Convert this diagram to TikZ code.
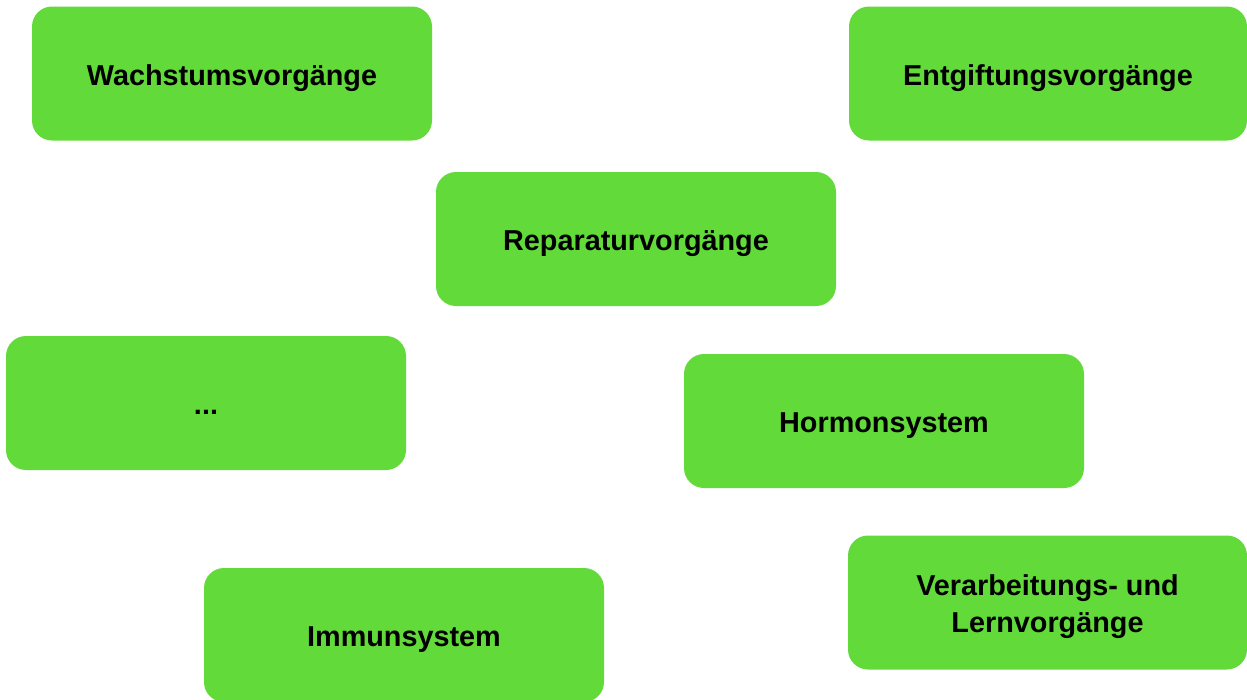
\documentclass[tikz,border=0pt]{standalone}
\usepackage{fontspec}
\setmainfont{Liberation Sans}
\definecolor{boxgreen}{RGB}{98,219,58}
\tikzset{
  topic/.style={fill=boxgreen, draw=none, rounded corners=20pt,
    minimum width=400pt, minimum height=134pt, inner sep=0pt,
    text height=23.5pt, text depth=0pt,
    align=center, font=\fontsize{28.8}{37}\selectfont\bfseries}
}
\begin{document}
\begin{tikzpicture}[x=1pt,y=-1pt]
\useasboundingbox (0,0) rectangle (1247,699);
\clip (0,0) rectangle (1247,699);
\node[topic] (wachstum) at (232,73.5) {Wachstumsvorgänge};
\node[topic, minimum width=398pt] (entgiftung) at (1048,73.5) {Entgiftungsvorgänge};
\node[topic] (reparatur) at (636,239) {Reparaturvorgänge};
\node[topic] (dots) at (206,403) {...};
\node[topic] (hormon) at (884,421) {Hormonsystem};
\node[topic, minimum width=399pt, text height=59pt] (verarbeitung) at (1047.5,602.5) {Verarbeitungs- und\\Lernvorgänge};
\node[topic] (immun) at (404,635) {Immunsystem};
\end{tikzpicture}
\end{document}
